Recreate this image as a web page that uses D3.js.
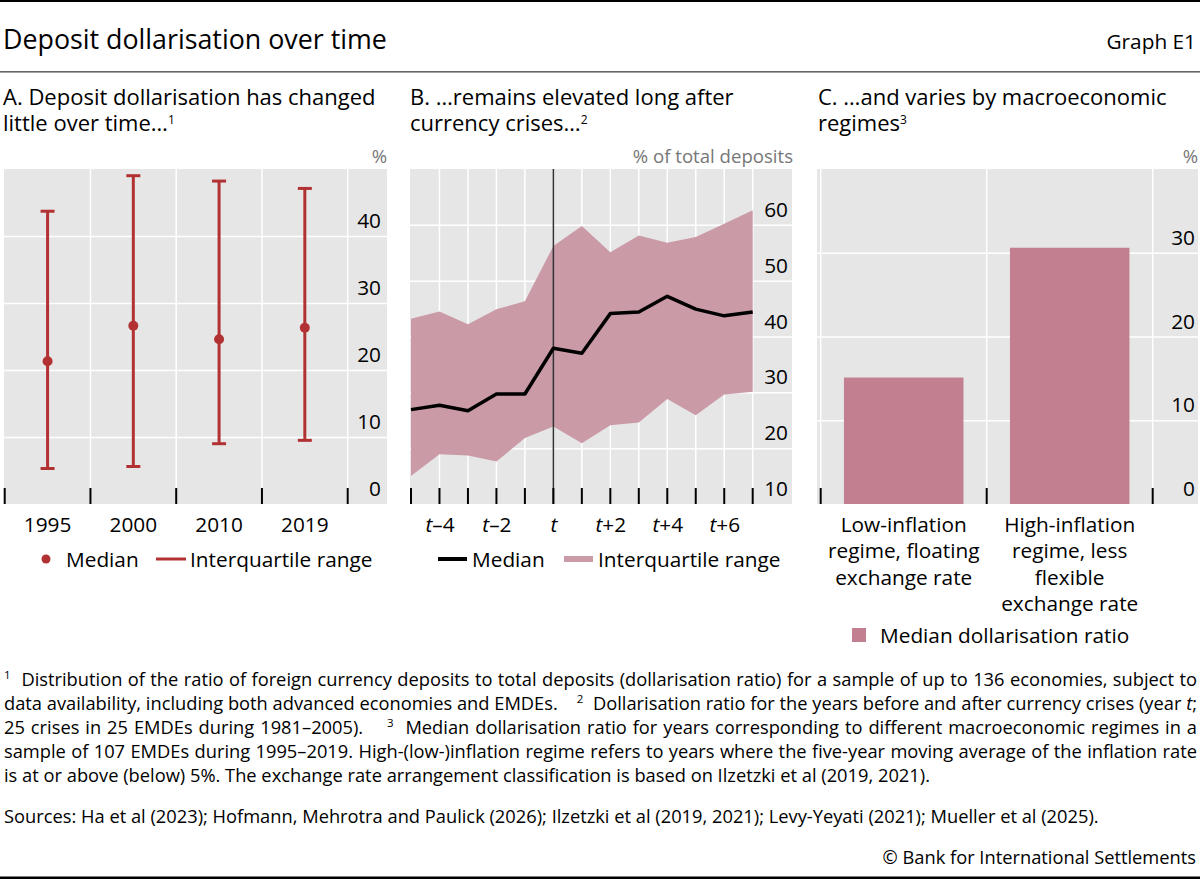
<!DOCTYPE html>
<html><head><meta charset="utf-8">
<script src="https://cdn.jsdelivr.net/npm/d3@7"></script>
<style>
html,body{margin:0;padding:0;background:#fff;}
svg{display:block;font-family:"Open Sans",sans-serif;}
</style></head>
<body>
<svg id="chart" width="1200" height="879"></svg>
<script>
// ---------- DATA ----------
const yearsA = ["1995", "2000", "2010", "2019"];
const medianA = [21.3, 26.6, 24.6, 26.3];
const p25A = [5.3, 5.6, 9.0, 9.5];
const p75A = [43.7, 49.0, 48.2, 47.1];
const yTicksA = [0, 10, 20, 30, 40];

const periodsB = [-5, -4, -3, -2, -1, 0, 1, 2, 3, 4, 5, 6, 7];
const medianB = [26.9, 27.7, 26.7, 29.7, 29.7, 37.9, 37.0, 44.1, 44.4, 47.2, 44.9, 43.7, 44.4];
const p25B = [15.0, 18.9, 18.7, 17.6, 21.8, 23.9, 20.9, 24.1, 24.6, 28.8, 25.9, 29.6, 30.1];
const p75B = [43.2, 44.5, 42.2, 44.9, 46.3, 56.2, 59.8, 55.1, 58.1, 56.8, 57.8, 60.2, 62.6];
const labelledB = [-4, -2, 0, 2, 4, 6];
const yTicksB = [10, 20, 30, 40, 50, 60];

const catsC = ["Low-inflation regime, floating exchange rate", "High-inflation regime, less flexible exchange rate"];
const catLinesC = [["Low-inflation", "regime, floating", "exchange rate"], ["High-inflation", "regime, less", "flexible", "exchange rate"]];
const valuesC = [15.1, 30.6];
const yTicksC = [0, 10, 20, 30];

// ---------- STYLE ----------
const BG = "#e6e6e6", RED = "#b23234", PINK = "#cb9aa7", BAR = "#c17f8f";
const svg = d3.select("#chart");
const FS = 20.8;

// header
svg.append("rect").attr("x", 0).attr("y", 0).attr("width", 1200).attr("height", 2).attr("fill", "#000");
svg.append("text").attr("x", 3).attr("y", 49).attr("font-size", 26.8).text("Deposit dollarisation over time");
svg.append("text").attr("x", 1196).attr("y", 49).attr("font-size", 20.8).attr("text-anchor", "end").text("Graph E1");
svg.append("rect").attr("x", 0).attr("y", 71).attr("width", 1200).attr("height", 1.6).attr("fill", "#666");

function panelTitle(x, lines, sup) {
  const t = svg.append("text").attr("x", x).attr("y", 105).attr("font-size", 22);
  lines.forEach((l, i) => {
    t.append("tspan").attr("x", x).attr("y", 105 + i * 26).text(l);
  });
  t.append("tspan").attr("font-size", 12).attr("dy", -7.5).text(sup);
}
panelTitle(3, ["A. Deposit dollarisation has changed", "little over time…"], "1");
panelTitle(410, ["B. …remains elevated long after", "currency crises…"], "2");
panelTitle(818, ["C. …and varies by macroeconomic", "regimes"], "3");

function unit(x, txt) {
  svg.append("text").attr("x", x).attr("y", 163).attr("font-size", 18.6).attr("fill", "#777").attr("text-anchor", "end").text(txt);
}
unit(387, "%"); unit(793, "% of total deposits"); unit(1198, "%");

const TOP = 169, BOT = 504;

function yGrid(g, y, ticks, x0, x1) {
  g.append("g").attr("transform", `translate(${x0},0)`)
    .call(d3.axisRight(y).tickValues(ticks.filter(d => y(d) < BOT - 2)).tickSize(x1 - x0).tickFormat(""))
    .call(a => a.select(".domain").remove())
    .call(a => a.selectAll("line").attr("stroke", "#fff").attr("stroke-width", 1.5));
}
function yLabels(g, y, ticks, xRight) {
  g.append("g").attr("transform", `translate(${xRight},0)`)
    .call(d3.axisLeft(y).tickValues(ticks).tickSize(0).tickPadding(0))
    .call(a => a.select(".domain").remove())
    .call(a => a.selectAll("text").attr("dy", null).attr("y", -8.5).attr("font-size", FS)
      .attr("font-family", "Open Sans").attr("fill", "#000"));
}
function xTicks(g, xs) {
  g.selectAll(null).data(xs).enter().append("line")
    .attr("x1", d => d).attr("x2", d => d).attr("y1", BOT - 16).attr("y2", BOT)
    .attr("stroke", "#000").attr("stroke-width", 2);
}

// ---------- PANEL A ----------
{
  const g = svg.append("g");
  const x0 = 4, x1 = 387;
  g.append("rect").attr("x", x0).attr("y", TOP).attr("width", x1 - x0).attr("height", BOT - TOP).attr("fill", BG);
  const x = d3.scaleBand().domain(yearsA).range([4.7, 347.7]).padding(0);
  const y = d3.scaleLinear().domain([0, 50]).range([BOT, TOP]);
  yGrid(g, y, yTicksA, x0, x1);
  const bounds = yearsA.map(d => x(d)).concat([x.range()[1]]);
  g.selectAll(null).data(bounds.slice(1)).enter().append("line")
    .attr("x1", d => d).attr("x2", d => d).attr("y1", TOP).attr("y2", BOT).attr("stroke", "#fff").attr("stroke-width", 1.5);
  xTicks(g, bounds);
  yLabels(g, y, yTicksA, 381);
  const cx = d => x(d) + x.bandwidth() / 2;
  const eb = g.selectAll(null).data(yearsA).enter().append("g");
  eb.append("line").attr("x1", cx).attr("x2", cx).attr("y1", (d, i) => y(p25A[i])).attr("y2", (d, i) => y(p75A[i]))
    .attr("stroke", RED).attr("stroke-width", 3);
  [p25A, p75A].forEach(arr => {
    eb.append("line").attr("x1", d => cx(d) - 7).attr("x2", d => cx(d) + 7)
      .attr("y1", (d, i) => y(arr[i])).attr("y2", (d, i) => y(arr[i])).attr("stroke", RED).attr("stroke-width", 3);
  });
  eb.append("circle").attr("cx", cx).attr("cy", (d, i) => y(medianA[i])).attr("r", 5).attr("fill", RED);
  g.append("g").attr("transform", `translate(0,${BOT})`)
    .call(d3.axisBottom(x).tickSize(0).tickPadding(0))
    .call(a => a.select(".domain").remove())
    .call(a => a.selectAll("text").attr("dy", null).attr("y", 27.5).attr("font-size", FS).attr("font-family", "Open Sans").attr("fill", "#000"));
  // legend
  g.append("circle").attr("cx", 46).attr("cy", 559).attr("r", 4.5).attr("fill", RED);
  g.append("text").attr("x", 66).attr("y", 566.5).attr("font-size", FS).text("Median");
  g.append("line").attr("x1", 156).attr("x2", 186).attr("y1", 559).attr("y2", 559).attr("stroke", RED).attr("stroke-width", 3);
  g.append("text").attr("x", 190).attr("y", 566.5).attr("font-size", FS).text("Interquartile range");
}

// ---------- PANEL B ----------
{
  const g = svg.append("g");
  const x0 = 410, x1 = 792;
  g.append("rect").attr("x", x0).attr("y", TOP).attr("width", x1 - x0).attr("height", BOT - TOP).attr("fill", BG);
  const x = d3.scalePoint().domain(periodsB).range([411, 752.7]);
  const y = d3.scaleLinear().domain([10, 70]).range([BOT, TOP]);
  yGrid(g, y, yTicksB, x0, x1);
  g.selectAll(null).data(periodsB.slice(1)).enter().append("line")
    .attr("x1", d => x(d)).attr("x2", d => x(d)).attr("y1", TOP).attr("y2", BOT).attr("stroke", "#fff").attr("stroke-width", 1.5);
  const area = d3.area().x((d, i) => x(periodsB[i])).y0((d, i) => y(p25B[i])).y1((d, i) => y(p75B[i]));
  g.append("path").attr("d", area(periodsB)).attr("fill", PINK);
  g.append("line").attr("x1", x(0)).attr("x2", x(0)).attr("y1", TOP).attr("y2", BOT).attr("stroke", "#333").attr("stroke-width", 1.5);
  const line = d3.line().x((d, i) => x(periodsB[i])).y((d, i) => y(medianB[i]));
  g.append("path").attr("d", line(periodsB)).attr("fill", "none").attr("stroke", "#000").attr("stroke-width", 3.5).attr("stroke-linejoin", "round");
  xTicks(g, periodsB.map(d => x(d)));
  yLabels(g, y, yTicksB, 788);
  g.append("g").attr("transform", `translate(0,${BOT})`)
    .call(d3.axisBottom(x).tickValues(labelledB).tickSize(0).tickPadding(0).tickFormat(""))
    .call(a => a.select(".domain").remove())
    .call(a => a.selectAll(".tick text").each(function (d) {
      const t = d3.select(this).attr("dy", null).attr("y", 27.5).attr("font-size", FS).attr("font-family", "Open Sans").attr("fill", "#000");
      t.append("tspan").attr("font-style", "italic").text("t");
      if (d !== 0) t.append("tspan").text(d < 0 ? "–" + (-d) : "+" + d);
    }));
  // legend
  g.append("line").attr("x1", 438).attr("x2", 467).attr("y1", 559).attr("y2", 559).attr("stroke", "#000").attr("stroke-width", 4);
  g.append("text").attr("x", 472).attr("y", 566.5).attr("font-size", FS).text("Median");
  g.append("line").attr("x1", 564).attr("x2", 593).attr("y1", 559).attr("y2", 559).attr("stroke", PINK).attr("stroke-width", 6);
  g.append("text").attr("x", 598).attr("y", 566.5).attr("font-size", FS).text("Interquartile range");
}

// ---------- PANEL C ----------
{
  const g = svg.append("g");
  const x0 = 817, x1 = 1198;
  g.append("rect").attr("x", x0).attr("y", TOP).attr("width", x1 - x0).attr("height", BOT - TOP).attr("fill", BG);
  const x = d3.scaleBand().domain(catsC).range([820.7, 1152.7]).padding(0);
  const y = d3.scaleLinear().domain([0, 40]).range([BOT, TOP]);
  yGrid(g, y, yTicksC, x0, x1);
  const bounds = catsC.map(d => x(d)).concat([x.range()[1]]);
  g.selectAll(null).data(bounds).enter().append("line")
    .attr("x1", d => d).attr("x2", d => d).attr("y1", TOP).attr("y2", BOT).attr("stroke", "#fff").attr("stroke-width", 1.5);
  const bw = x.bandwidth() * 0.72;
  g.selectAll(null).data(catsC).enter().append("rect")
    .attr("x", d => x(d) + (x.bandwidth() - bw) / 2).attr("width", bw)
    .attr("y", (d, i) => y(valuesC[i])).attr("height", (d, i) => BOT - y(valuesC[i])).attr("fill", BAR);
  xTicks(g, bounds);
  yLabels(g, y, yTicksC, 1195);
  g.append("g").attr("transform", `translate(0,${BOT})`)
    .call(d3.axisBottom(x).tickSize(0).tickPadding(0).tickFormat(""))
    .call(a => a.select(".domain").remove())
    .call(a => a.selectAll(".tick text").each(function (d, i) {
      const t = d3.select(this).attr("dy", null).attr("y", 0).attr("font-size", FS).attr("font-family", "Open Sans").attr("fill", "#000");
      catLinesC[i].forEach((l, j) => t.append("tspan").attr("x", 0).attr("y", 27.5 + j * 26.5).text(l));
    }));
  g.append("rect").attr("x", 852).attr("y", 628).attr("width", 14).attr("height", 14).attr("fill", BAR);
  g.append("text").attr("x", 880).attr("y", 642.5).attr("font-size", FS).text("Median dollarisation ratio");
}

// ---------- FOOTNOTES ----------
const FN = 18.3;
const notes = [
  { parts: [["1", true], ["  Distribution of the ratio of foreign currency deposits to total deposits (dollarisation ratio) for a sample of up to 136 economies, subject to"]], just: true },
  { parts: [["data availability, including both advanced economies and EMDEs.    "], ["2", true], ["  Dollarisation ratio for the years before and after currency crises (year "], ["t", false, true], [";"]], just: true },
  { parts: [["25 crises in 25 EMDEs during 1981–2005).    "], ["3", true], ["  Median dollarisation ratio for years corresponding to different macroeconomic regimes in a"]], just: true },
  { parts: [["sample of 107 EMDEs during 1995–2019. High-(low-)inflation regime refers to years where the five-year moving average of the inflation rate"]], just: true },
  { parts: [["is at or above (below) 5%. The exchange rate arrangement classification is based on Ilzetzki et al (2019, 2021)."]], just: false }
];
notes.forEach((n, i) => {
  const t = svg.append("text").attr("x", 4).attr("y", 686 + i * 24).attr("font-size", FN).style("white-space", "pre");
  n.parts.forEach(p => {
    const s = t.append("tspan").text(p[0]);
    if (p[1]) s.attr("font-size", 11.5).attr("baseline-shift", "super");
    if (p[2]) s.attr("font-style", "italic");
  });
  if (n.just) {
    const w = t.node().getComputedTextLength();
    const txt = n.parts.map(p => p[0]).join("");
    const spaces = (txt.match(/ /g) || []).length;
    t.attr("word-spacing", (1197 - 4 - w) / spaces);
  }
});
svg.append("text").attr("x", 4).attr("y", 822.5).attr("font-size", FN)
  .text("Sources: Ha et al (2023); Hofmann, Mehrotra and Paulick (2026); Ilzetzki et al (2019, 2021); Levy-Yeyati (2021); Mueller et al (2025).");
svg.append("text").attr("x", 1196).attr("y", 863.5).attr("font-size", FN).attr("text-anchor", "end").text("© Bank for International Settlements");
svg.append("rect").attr("x", 0).attr("y", 876.5).attr("width", 1200).attr("height", 2.5).attr("fill", "#000");
</script>
</body></html>
